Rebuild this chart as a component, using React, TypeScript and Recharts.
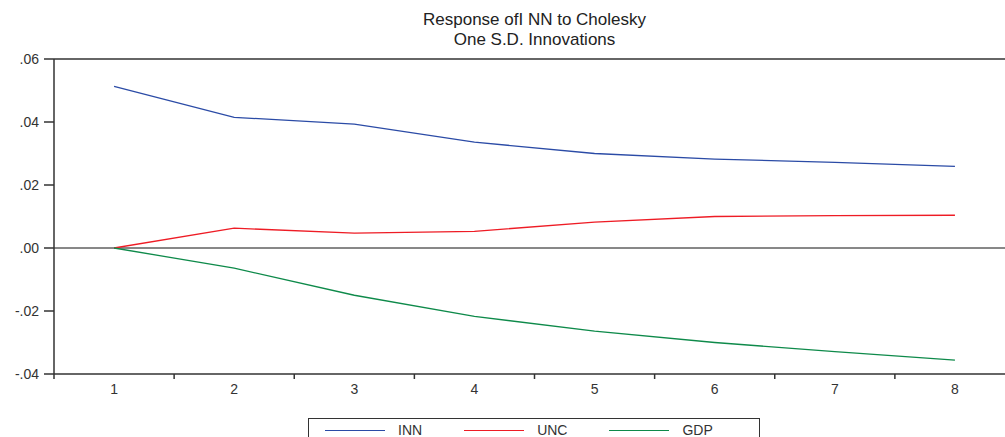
import React from 'react';
import {
  LineChart,
  Line,
  XAxis,
  YAxis,
  ReferenceLine,
} from 'recharts';

// impulse responses, periods 1..8
const periods = [1, 2, 3, 4, 5, 6, 7, 8];
const innValues = [0.0513, 0.0415, 0.0393, 0.0336, 0.0300, 0.0282, 0.0272, 0.0259];
const uncValues = [0.0, 0.0063, 0.0047, 0.0053, 0.0082, 0.0100, 0.0103, 0.0104];
const gdpValues = [0.0, -0.0064, -0.0150, -0.0217, -0.0264, -0.0300, -0.0329, -0.0356];
const yTicks = [-0.04, -0.02, 0, 0.02, 0.04, 0.06];

const titleLines = ['Response ofI NN to Cholesky', 'One S.D. Innovations'];

const series = [
  { key: 'INN', color: '#2b4ba6', values: innValues },
  { key: 'UNC', color: '#ee1c25', values: uncValues },
  { key: 'GDP', color: '#0e8a4a', values: gdpValues },
];

const data = periods.map((p, i) => {
  const row: Record<string, number> = { period: p };
  series.forEach((s) => {
    row[s.key] = s.values[i];
  });
  return row;
});

// tick marks sit between periods, labels sit on them
const bandEdges = [...periods.map((p) => p - 0.5), periods[periods.length - 1] + 0.5];
const xDomain = [bandEdges[0], bandEdges[bandEdges.length - 1]];

const fmtY = (v: number) => v.toFixed(2).replace('0.', '.');

const FONT = '"Liberation Sans", Arial, sans-serif';
const INK = '#333';

export default function App() {
  return (
    <div
      style={{
        position: 'fixed',
        left: 0,
        top: 0,
        width: 1005,
        height: 437,
        overflow: 'hidden',
        background: '#fff',
        fontFamily: FONT,
      }}
    >
      {/* title */}
      <div
        style={{
          position: 'absolute',
          left: 0,
          top: 10,
          width: 1069,
          textAlign: 'center',
          fontSize: 17,
          lineHeight: '20px',
          color: '#222',
        }}
      >
        {titleLines.map((t) => (
          <div key={t}>{t}</div>
        ))}
      </div>

      <LineChart
        width={1020}
        height={437}
        data={data}
        margin={{ top: 59, right: 5, left: 0, bottom: 0 }}
        style={{ position: 'absolute', left: 0, top: 0 }}
      >
        {/* tick marks at band edges, no labels */}
        <XAxis
          xAxisId="edges"
          dataKey="period"
          type="number"
          domain={xDomain}
          ticks={bandEdges}
          interval={0}
          tickFormatter={() => ''}
          height={1}
          tickSize={5}
          stroke={INK}
          strokeWidth={1.5}
          allowDataOverflow
        />
        {/* labels at period centres */}
        <XAxis
          xAxisId="labels"
          dataKey="period"
          type="number"
          domain={xDomain}
          ticks={periods}
          interval={0}
          axisLine={false}
          tickLine={false}
          tickSize={0}
          tickMargin={9}
          height={62}
          tick={{ fill: INK, fontSize: 14, fontFamily: FONT }}
          allowDataOverflow
        />
        <YAxis
          domain={[yTicks[0], yTicks[yTicks.length - 1]]}
          ticks={yTicks}
          interval={0}
          tickFormatter={fmtY}
          width={54}
          tickSize={10}
          tickMargin={5}
          stroke={INK}
          strokeWidth={1.5}
          tick={{ fill: INK, fontSize: 14, fontFamily: FONT }}
          allowDataOverflow
        />
        <ReferenceLine xAxisId="edges" y={yTicks[yTicks.length - 1]} stroke={INK} strokeWidth={1.5} />
        <ReferenceLine xAxisId="edges" y={0} stroke="#111" strokeWidth={1} />
        {series.map((s) => (
          <Line
            key={s.key}
            xAxisId="edges"
            dataKey={s.key}
            type="linear"
            stroke={s.color}
            strokeWidth={1.3}
            dot={false}
            isAnimationActive={false}
          />
        ))}
      </LineChart>

      {/* legend box, cut off by the bottom edge like the original */}
      <div
        style={{
          position: 'absolute',
          left: 308,
          top: 418,
          width: 452,
          height: 40,
          border: `1.5px solid ${INK}`,
          display: 'flex',
          alignItems: 'flex-start',
          paddingLeft: 16,
          paddingTop: 3,
          boxSizing: 'border-box',
          fontSize: 14,
          color: INK,
        }}
      >
        {series.map((s) => (
          <div key={s.key} style={{ display: 'flex', alignItems: 'center', marginRight: 42 }}>
            <div style={{ width: 60, height: 0, borderTop: `1.5px solid ${s.color}`, marginRight: 13 }} />
            <span style={{ lineHeight: '16px' }}>{s.key}</span>
          </div>
        ))}
      </div>
    </div>
  );
}
